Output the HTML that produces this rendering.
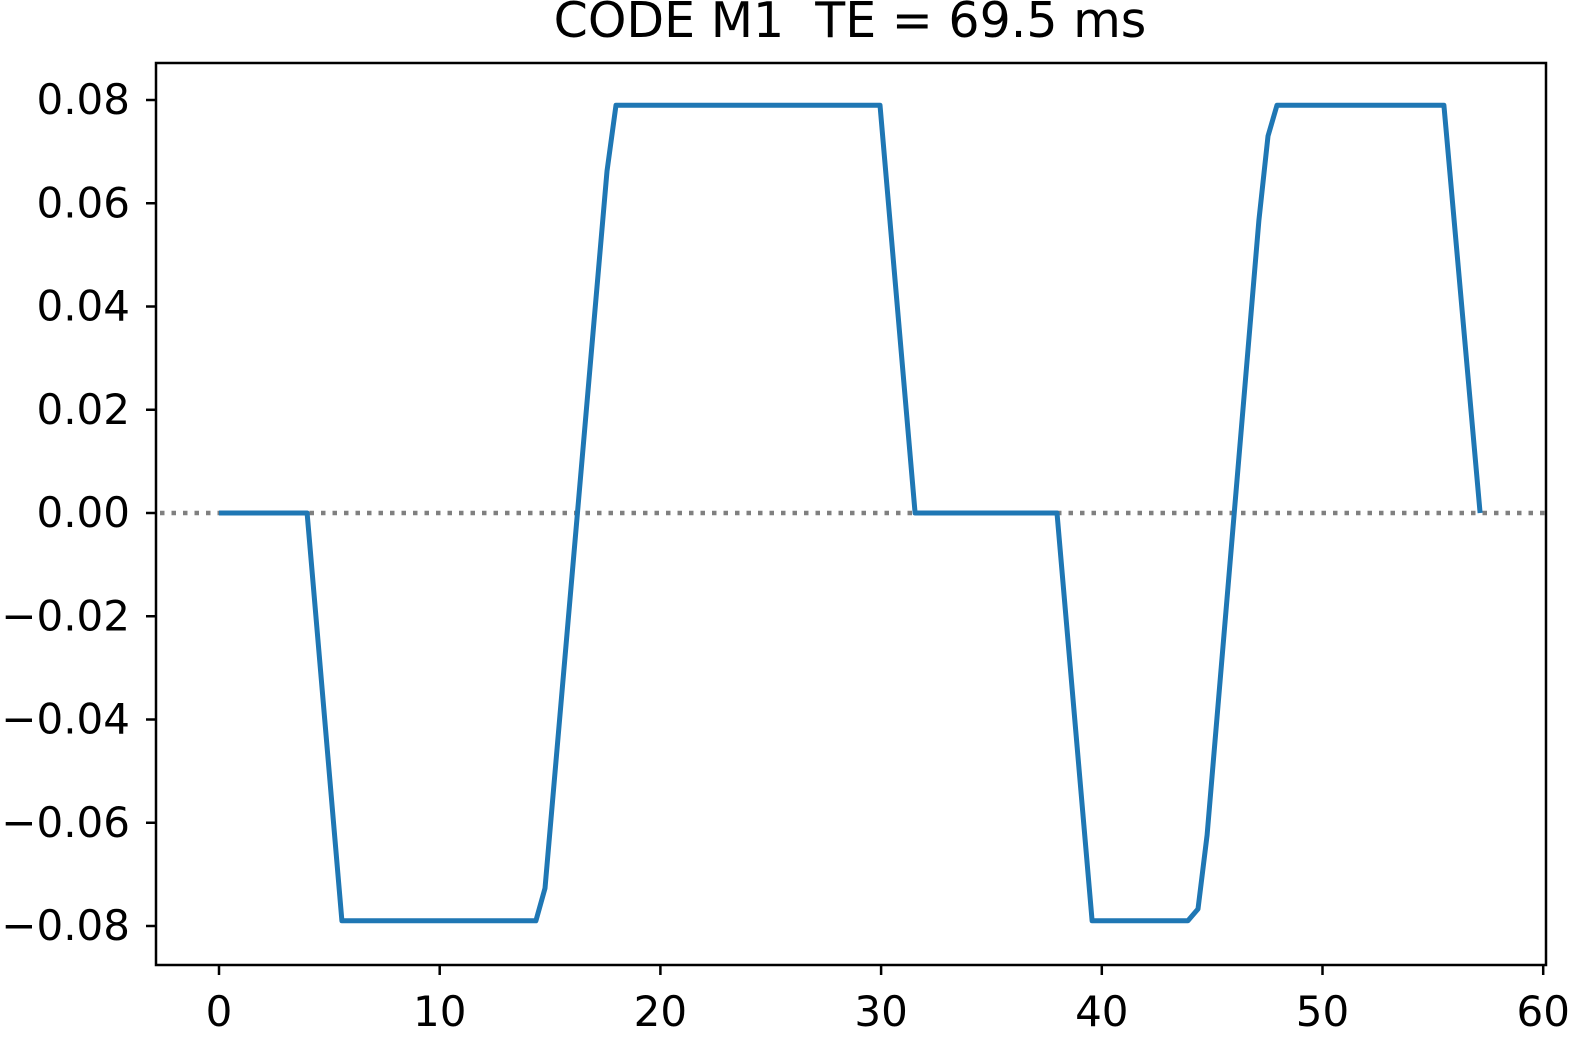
<!DOCTYPE html>
<html><head><meta charset="utf-8"><style>
html,body{margin:0;padding:0;background:#fff;}
svg{display:block;font-family:"DejaVu Sans","Liberation Sans",sans-serif;}
</style></head><body>
<svg id="chart" width="1576" height="1038" viewBox="0 0 1576 1038" xmlns="http://www.w3.org/2000/svg">
<text x="850" y="37" text-anchor="middle" font-size="49" fill="#000" style="white-space:pre" xml:space="preserve">CODE M1  TE = 69.5 ms</text>
<g id="grid"></g>
<g id="series"></g>
<rect x="156" y="63" width="1390" height="902" fill="none" stroke="#000" stroke-width="2.5"/>
<g id="axes"></g>
</svg>
<script>
const xTicks = [0,10,20,30,40,50,60];
const yTicks = [0.08,0.06,0.04,0.02,0,-0.02,-0.04,-0.06,-0.08];
const yTickLabels = ["0.08","0.06","0.04","0.02","0.00","\u22120.02","\u22120.04","\u22120.06","\u22120.08"];
const tValues = [0,3.99,5.57,14.36,14.77,17.58,17.99,29.95,31.54,37.97,39.56,43.9,44.36,44.77,47.12,47.53,47.94,55.5,57.14];
const gValues = [0,0,-0.079,-0.079,-0.0727,0.0662,0.079,0.079,0,0,-0.079,-0.079,-0.0767,-0.0624,0.0567,0.073,0.079,0.079,0];

const NS="http://www.w3.org/2000/svg";
function sx(v){return 219+v*22.07;}
function sy(v){return 513-v*5162.5;}
function mk(tag,attrs,parent){const e=document.createElementNS(NS,tag);for(const k in attrs)e.setAttribute(k,attrs[k]);parent.appendChild(e);return e;}
const axes=document.getElementById('axes'), series=document.getElementById('series'), grid=document.getElementById('grid');

const zl=mk('line',{x1:160,x2:1546,y1:sy(0),y2:sy(0),stroke:'#808080','stroke-width':4.5,'stroke-dasharray':'4.5 7'},grid);



xTicks.forEach(v=>{
  const t=mk('line',{x1:sx(v),x2:sx(v),y1:965,y2:975,stroke:'#000','stroke-width':2.5},axes);
  
  
  const l=mk('text',{x:sx(v),y:1026,'text-anchor':'middle','font-size':42,fill:'#000'},axes);
  l.textContent=String(v);
  
  
});
yTicks.forEach((v,i)=>{
  const t=mk('line',{x1:146,x2:156,y1:sy(v),y2:sy(v),stroke:'#000','stroke-width':2.5},axes);
  
  
  const l=mk('text',{x:130,y:sy(v)+14,'text-anchor':'end','font-size':42,fill:'#000'},axes);
  l.textContent=yTickLabels[i];
  
  
});
const pts=tValues.map((t,i)=>sx(t).toFixed(1)+','+sy(gValues[i]).toFixed(1)).join(' ');
const pl=mk('polyline',{points:pts,fill:'none',stroke:'#1f77b4','stroke-width':5,'stroke-linejoin':'round'},series);


</script>
</body></html>
